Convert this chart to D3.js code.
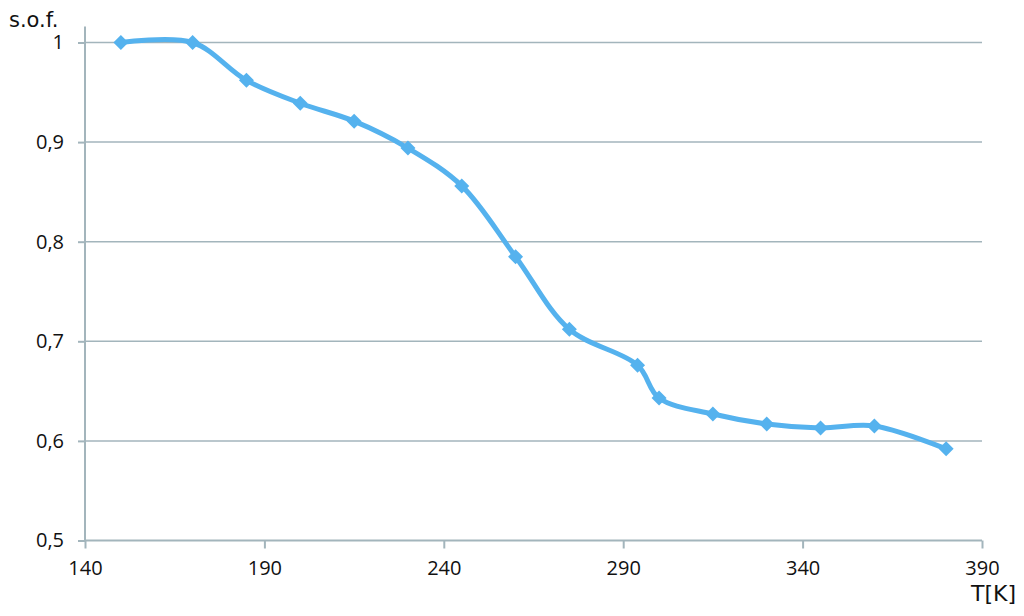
<!DOCTYPE html>
<html>
<head>
<meta charset="utf-8">
<script src="https://cdn.jsdelivr.net/npm/d3@7"></script>
<style>
  body { margin: 0; background: #fff; }
  svg { display: block; }
</style>
</head>
<body>
<svg id="chart" width="1024" height="616"></svg>
<script>
// temperature [K] and site occupancy factor
const temps = [150, 170, 185, 200, 215, 230, 245, 260, 275, 294, 300, 315, 330, 345, 360, 380];
const sof = [1.0, 1.0, 0.962, 0.939, 0.921, 0.894, 0.856, 0.785, 0.712, 0.676, 0.643, 0.627, 0.617, 0.613, 0.615, 0.592];
const xTicks = [140, 190, 240, 290, 340, 390];
const yTicks = [0.5, 0.6, 0.7, 0.8, 0.9, 1];

const svg = d3.select("#chart");
const margin = { top: 42.5, right: 42, bottom: 75.5, left: 85 };
const width = 1024 - margin.left - margin.right;
const height = 616 - margin.top - margin.bottom;

const gridColor = "#a3b5bc";
const lineColor = "#55b2ee";

const x = d3.scaleLinear().domain([140, 390]).range([0, width]);
const y = d3.scaleLinear().domain([0.5, 1]).range([height, 0]);

const g = svg.append("g")
  .attr("transform", `translate(${margin.left},${margin.top})`);

// horizontal gridlines
g.append("g")
  .selectAll("line")
  .data(yTicks.filter(d => d > 0.5))
  .join("line")
  .attr("x1", 0)
  .attr("x2", width)
  .attr("y1", d => y(d))
  .attr("y2", d => y(d))
  .attr("stroke", gridColor)
  .attr("stroke-width", 1.5);

const fmt = d => String(d).replace(".", ",");

// y axis
const yAxis = g.append("g")
  .call(d3.axisLeft(y).tickValues(yTicks).tickFormat(fmt).tickSize(7).tickPadding(14));
yAxis.select(".domain").attr("stroke", gridColor).attr("stroke-width", 2)
  .attr("d", `M0,${y(1) - 16}V${height}`);
yAxis.selectAll(".tick line").attr("stroke", gridColor).attr("stroke-width", 2);

// x axis
const xAxis = g.append("g")
  .attr("transform", `translate(0,${height})`)
  .call(d3.axisBottom(x).tickValues(xTicks).tickSize(8).tickPadding(12));
xAxis.select(".domain").attr("stroke", gridColor).attr("stroke-width", 2)
  .attr("d", `M0,0H${width}`);
xAxis.selectAll(".tick line").attr("stroke", gridColor).attr("stroke-width", 2);

svg.selectAll(".tick text")
  .attr("font-family", "'Open Sans', sans-serif")
  .attr("font-size", 20)
  .attr("fill", "#111");

// axis titles
svg.append("text")
  .attr("x", 9)
  .attr("y", 27)
  .attr("font-family", "'DejaVu Sans', sans-serif")
  .attr("font-size", 21)
  .attr("fill", "#111")
  .text("s.o.f.");

svg.append("text")
  .attr("x", 1016)
  .attr("y", 601)
  .attr("text-anchor", "end")
  .attr("font-family", "'DejaVu Sans', sans-serif")
  .attr("font-size", 22)
  .attr("fill", "#111")
  .text("T[K]");

// smoothed series line
const pts = temps.map((t, i) => [t, sof[i]]);
const line = d3.line()
  .x(d => x(d[0]))
  .y(d => y(d[1]))
  .curve(d3.curveCatmullRom.alpha(0.5));

g.append("path")
  .datum(pts)
  .attr("d", line)
  .attr("fill", "none")
  .attr("stroke", lineColor)
  .attr("stroke-width", 5)
  .attr("stroke-linejoin", "round");

// diamond markers
const r = 7.5;
g.append("g")
  .selectAll("path")
  .data(pts)
  .join("path")
  .attr("transform", d => `translate(${x(d[0])},${y(d[1])})`)
  .attr("d", `M0,${-r}L${r},0L0,${r}L${-r},0Z`)
  .attr("fill", lineColor);
</script>
</body>
</html>
